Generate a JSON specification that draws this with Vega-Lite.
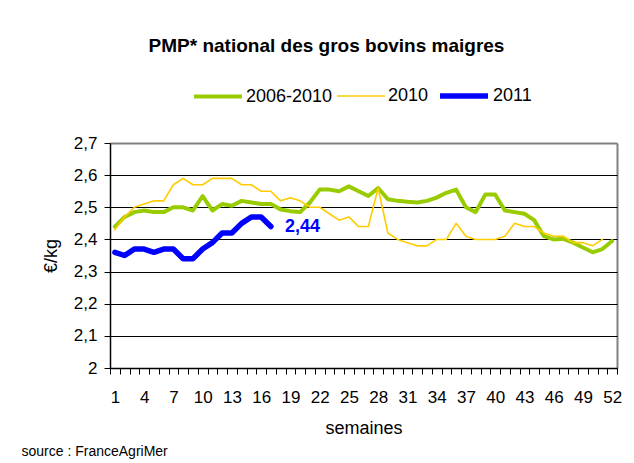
{
  "$schema": "https://vega.github.io/schema/vega-lite/v6.json",
  "width": 507,
  "height": 225,
  "autosize": {"type": "none"},
  "padding": {"left": 110, "top": 143, "right": 17, "bottom": 95},
  "background": "white",
  "config": {
    "font": "Liberation Sans",
    "view": {"stroke": null},
    "axis": {"labelFont": "Liberation Sans", "titleFont": "Liberation Sans", "labelColor": "black", "titleColor": "black", "titleFontWeight": "normal"}
  },
  "title": {"text": "PMP* national des gros bovins maigres", "font": "Liberation Sans", "fontSize": 19, "fontWeight": "bold", "color": "black", "anchor": "middle", "frame": "group", "dx": -37, "offset": -2, "baseline": "alphabetic"},
  "data": {"values": [
    {"series": "2006-2010", "week": 1, "value": 2.44},
    {"series": "2006-2010", "week": 2, "value": 2.47},
    {"series": "2006-2010", "week": 3, "value": 2.485},
    {"series": "2006-2010", "week": 4, "value": 2.49},
    {"series": "2006-2010", "week": 5, "value": 2.485},
    {"series": "2006-2010", "week": 6, "value": 2.485},
    {"series": "2006-2010", "week": 7, "value": 2.5},
    {"series": "2006-2010", "week": 8, "value": 2.5},
    {"series": "2006-2010", "week": 9, "value": 2.49},
    {"series": "2006-2010", "week": 10, "value": 2.535},
    {"series": "2006-2010", "week": 11, "value": 2.49},
    {"series": "2006-2010", "week": 12, "value": 2.51},
    {"series": "2006-2010", "week": 13, "value": 2.505},
    {"series": "2006-2010", "week": 14, "value": 2.52},
    {"series": "2006-2010", "week": 15, "value": 2.515},
    {"series": "2006-2010", "week": 16, "value": 2.51},
    {"series": "2006-2010", "week": 17, "value": 2.51},
    {"series": "2006-2010", "week": 18, "value": 2.493},
    {"series": "2006-2010", "week": 19, "value": 2.488},
    {"series": "2006-2010", "week": 20, "value": 2.485},
    {"series": "2006-2010", "week": 21, "value": 2.515},
    {"series": "2006-2010", "week": 22, "value": 2.555},
    {"series": "2006-2010", "week": 23, "value": 2.555},
    {"series": "2006-2010", "week": 24, "value": 2.55},
    {"series": "2006-2010", "week": 25, "value": 2.565},
    {"series": "2006-2010", "week": 26, "value": 2.55},
    {"series": "2006-2010", "week": 27, "value": 2.535},
    {"series": "2006-2010", "week": 28, "value": 2.56},
    {"series": "2006-2010", "week": 29, "value": 2.525},
    {"series": "2006-2010", "week": 30, "value": 2.52},
    {"series": "2006-2010", "week": 31, "value": 2.517},
    {"series": "2006-2010", "week": 32, "value": 2.515},
    {"series": "2006-2010", "week": 33, "value": 2.52},
    {"series": "2006-2010", "week": 34, "value": 2.53},
    {"series": "2006-2010", "week": 35, "value": 2.545},
    {"series": "2006-2010", "week": 36, "value": 2.555},
    {"series": "2006-2010", "week": 37, "value": 2.5},
    {"series": "2006-2010", "week": 38, "value": 2.485},
    {"series": "2006-2010", "week": 39, "value": 2.54},
    {"series": "2006-2010", "week": 40, "value": 2.54},
    {"series": "2006-2010", "week": 41, "value": 2.49},
    {"series": "2006-2010", "week": 42, "value": 2.485},
    {"series": "2006-2010", "week": 43, "value": 2.48},
    {"series": "2006-2010", "week": 44, "value": 2.46},
    {"series": "2006-2010", "week": 45, "value": 2.41},
    {"series": "2006-2010", "week": 46, "value": 2.4},
    {"series": "2006-2010", "week": 47, "value": 2.402},
    {"series": "2006-2010", "week": 48, "value": 2.39},
    {"series": "2006-2010", "week": 49, "value": 2.375},
    {"series": "2006-2010", "week": 50, "value": 2.36},
    {"series": "2006-2010", "week": 51, "value": 2.37},
    {"series": "2006-2010", "week": 52, "value": 2.395},
    {"series": "2010", "week": 1, "value": 2.43},
    {"series": "2010", "week": 2, "value": 2.47},
    {"series": "2010", "week": 3, "value": 2.5},
    {"series": "2010", "week": 4, "value": 2.51},
    {"series": "2010", "week": 5, "value": 2.52},
    {"series": "2010", "week": 6, "value": 2.52},
    {"series": "2010", "week": 7, "value": 2.57},
    {"series": "2010", "week": 8, "value": 2.59},
    {"series": "2010", "week": 9, "value": 2.57},
    {"series": "2010", "week": 10, "value": 2.57},
    {"series": "2010", "week": 11, "value": 2.59},
    {"series": "2010", "week": 12, "value": 2.59},
    {"series": "2010", "week": 13, "value": 2.59},
    {"series": "2010", "week": 14, "value": 2.57},
    {"series": "2010", "week": 15, "value": 2.57},
    {"series": "2010", "week": 16, "value": 2.55},
    {"series": "2010", "week": 17, "value": 2.55},
    {"series": "2010", "week": 18, "value": 2.52},
    {"series": "2010", "week": 19, "value": 2.53},
    {"series": "2010", "week": 20, "value": 2.52},
    {"series": "2010", "week": 21, "value": 2.5},
    {"series": "2010", "week": 22, "value": 2.5},
    {"series": "2010", "week": 23, "value": 2.48},
    {"series": "2010", "week": 24, "value": 2.46},
    {"series": "2010", "week": 25, "value": 2.47},
    {"series": "2010", "week": 26, "value": 2.44},
    {"series": "2010", "week": 27, "value": 2.44},
    {"series": "2010", "week": 28, "value": 2.56},
    {"series": "2010", "week": 29, "value": 2.42},
    {"series": "2010", "week": 30, "value": 2.4},
    {"series": "2010", "week": 31, "value": 2.39},
    {"series": "2010", "week": 32, "value": 2.38},
    {"series": "2010", "week": 33, "value": 2.38},
    {"series": "2010", "week": 34, "value": 2.4},
    {"series": "2010", "week": 35, "value": 2.4},
    {"series": "2010", "week": 36, "value": 2.45},
    {"series": "2010", "week": 37, "value": 2.41},
    {"series": "2010", "week": 38, "value": 2.4},
    {"series": "2010", "week": 39, "value": 2.4},
    {"series": "2010", "week": 40, "value": 2.4},
    {"series": "2010", "week": 41, "value": 2.41},
    {"series": "2010", "week": 42, "value": 2.45},
    {"series": "2010", "week": 43, "value": 2.44},
    {"series": "2010", "week": 44, "value": 2.44},
    {"series": "2010", "week": 45, "value": 2.42},
    {"series": "2010", "week": 46, "value": 2.41},
    {"series": "2010", "week": 47, "value": 2.41},
    {"series": "2010", "week": 48, "value": 2.39},
    {"series": "2010", "week": 49, "value": 2.39},
    {"series": "2010", "week": 50, "value": 2.38},
    {"series": "2010", "week": 51, "value": 2.4},
    {"series": "2011", "week": 1, "value": 2.36},
    {"series": "2011", "week": 2, "value": 2.35},
    {"series": "2011", "week": 3, "value": 2.37},
    {"series": "2011", "week": 4, "value": 2.37},
    {"series": "2011", "week": 5, "value": 2.36},
    {"series": "2011", "week": 6, "value": 2.37},
    {"series": "2011", "week": 7, "value": 2.37},
    {"series": "2011", "week": 8, "value": 2.34},
    {"series": "2011", "week": 9, "value": 2.34},
    {"series": "2011", "week": 10, "value": 2.37},
    {"series": "2011", "week": 11, "value": 2.39},
    {"series": "2011", "week": 12, "value": 2.42},
    {"series": "2011", "week": 13, "value": 2.42},
    {"series": "2011", "week": 14, "value": 2.45},
    {"series": "2011", "week": 15, "value": 2.47},
    {"series": "2011", "week": 16, "value": 2.47},
    {"series": "2011", "week": 17, "value": 2.44}
  ]},
  "resolve": {"axis": {"x": "independent", "y": "independent"}},
  "layer": [
    {
      "mark": {"type": "line", "strokeJoin": "round", "strokeCap": "round"},
      "encoding": {
        "x": {"field": "week", "type": "quantitative",
          "scale": {"domain": [0.5, 52.5], "nice": false, "zero": false},
          "axis": {"orient": "bottom", "values": [0.5,1.5,2.5,3.5,4.5,5.5,6.5,7.5,8.5,9.5,10.5,11.5,12.5,13.5,14.5,15.5,16.5,17.5,18.5,19.5,20.5,21.5,22.5,23.5,24.5,25.5,26.5,27.5,28.5,29.5,30.5,31.5,32.5,33.5,34.5,35.5,36.5,37.5,38.5,39.5,40.5,41.5,42.5,43.5,44.5,45.5,46.5,47.5,48.5,49.5,50.5,51.5,52.5],
            "labels": false, "ticks": true, "domain": true, "tickSize": 6, "tickWidth": 1, "tickColor": "black", "domainColor": "black", "domainWidth": 1.5,
            "grid": true, "gridWidth": 2,
            "gridColor": {"condition": {"test": "datum.value > 52", "value": "#808080"}, "value": "transparent"},
            "title": "source : FranceAgriMer", "titleX": -89, "titleY": 83, "titleAlign": "left", "titleBaseline": "middle", "titleFontSize": 14, "titleAngle": 0}},
        "y": {"field": "value", "type": "quantitative",
          "scale": {"domain": [2, 2.7], "nice": false, "zero": false},
          "axis": {"orient": "left", "values": [2, 2.1, 2.2, 2.3, 2.4, 2.5, 2.6, 2.7],
            "labelExpr": "datum.value == 2 ? '2' : replace(format(datum.value, '.1f'), '.', ',')",
            "labelOverlap": false, "labelFontSize": 17, "labelPadding": 7, "ticks": true, "domain": true, "tickSize": 6, "tickWidth": 1, "tickColor": "black",
            "domainColor": "black", "domainWidth": 1.5,
            "grid": true,
            "gridWidth": {"condition": {"test": "datum.value > 2.65", "value": 2}, "value": 1},
            "gridColor": {"condition": {"test": "datum.value > 2.65", "value": "#808080"}, "value": "black"},
            "title": "€/kg", "titleFontSize": 18, "titleX": -54, "titleBaseline": "alphabetic"}},
        "color": {"field": "series", "type": "nominal",
          "scale": {"domain": ["2006-2010", "2010", "2011"], "range": ["#99CC00", "#FFCC00", "#0000FF"]},
          "legend": {"orient": "none", "legendX": 82, "legendY": -74, "direction": "horizontal", "title": null,
            "symbolType": "stroke", "symbolSize": 2300, "labelFontSize": 18, "labelFont": "Liberation Sans",
            "labelColor": "black", "labelOffset": 2, "columnPadding": 0, "labelLimit": 0}},
        "strokeWidth": {"field": "series", "type": "nominal",
          "scale": {"type": "ordinal", "domain": ["2006-2010", "2010", "2011"], "range": [4, 1.6, 5.5]},
          "legend": {"orient": "none", "legendX": 82, "legendY": -74, "direction": "horizontal", "title": null,
            "symbolType": "stroke", "symbolSize": 2300, "labelFontSize": 18, "labelFont": "Liberation Sans",
            "labelColor": "black", "labelOffset": 2, "columnPadding": 0, "labelLimit": 0}}
      }
    },
    {
      "transform": [
        {"filter": "datum.series == '2011' && datum.week == 17"},
        {"calculate": "replace(format(datum.value, '.2f'), '.', ',')", "as": "label"}
      ],
      "mark": {"type": "text", "align": "left", "baseline": "middle", "dx": 14, "fontSize": 18, "fontWeight": "bold", "color": "#0000FF", "font": "Liberation Sans"},
      "encoding": {
        "x": {"field": "week", "type": "quantitative",
          "axis": {"orient": "bottom", "values": [1,4,7,10,13,16,19,22,25,28,31,34,37,40,43,46,49,52],
            "ticks": false, "tickSize": 0, "domain": false, "grid": false, "labelFontSize": 17, "labelPadding": 21,
            "title": "semaines", "titleFontSize": 18, "titleY": 65, "titleBaseline": "alphabetic"}},
        "y": {"field": "value", "type": "quantitative", "axis": null},
        "text": {"field": "label", "type": "nominal"}
      }
    }
  ]
}
